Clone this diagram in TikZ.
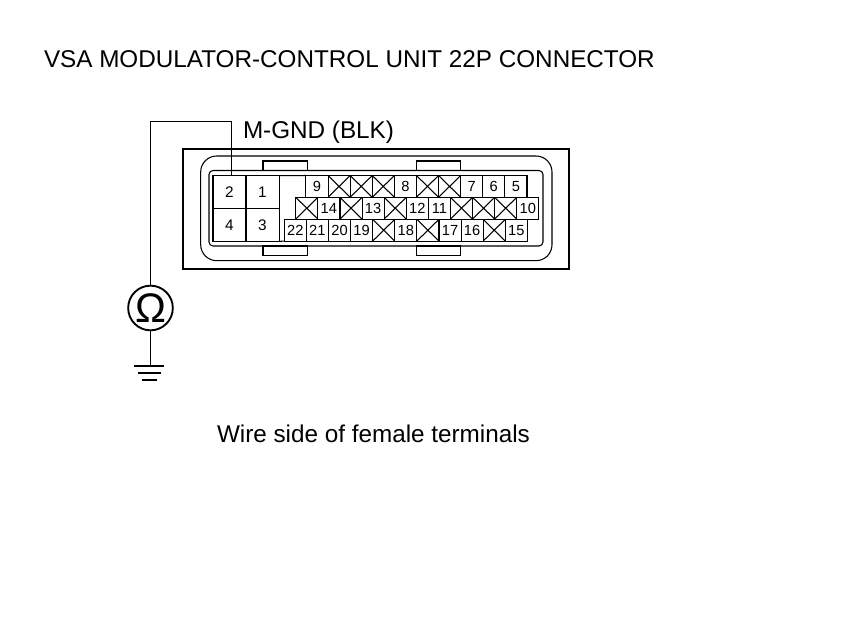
\documentclass[tikz,border=0pt]{standalone}
\usepackage{fontspec}
\setmainfont{Liberation Sans}
\tikzset{
	cell/.style={draw,line width=0.8pt,inner sep=0pt,outer sep=0pt,minimum width=16.6pt,minimum height=16.3pt,font=\fontsize{11pt}{11pt}\selectfont},
	xcell/.style={cell,path picture={\draw[line width=0.8pt] (path picture bounding box.north west)--(path picture bounding box.south east) (path picture bounding box.south west)--(path picture bounding box.north east);}},
	bigcell/.style={cell,minimum width=24.8pt,minimum height=24.6pt,font=\fontsize{11.5pt}{11.5pt}\selectfont},
	label/.style={inner sep=0pt,outer sep=0pt,anchor=base west,font=\fontsize{18.2pt}{18.2pt}\selectfont},
	housing/.style={draw,line width=0.8pt}
}
\begin{document}
\begin{tikzpicture}[x=0.75pt,y=-0.75pt]
	\useasboundingbox (0,0) rectangle (860,630);
	\node[label] (title) at (44,68) {VSA MODULATOR-CONTROL UNIT 22P CONNECTOR};
	\node[label] (mgnd) at (243,139) {M-GND (BLK)};
	\node[label] (wire) at (217,443) {Wire side of female terminals};
	
	% housing
	\draw[line width=1.5pt] (183,149) rectangle (569,269);
	\draw[housing,rounded corners=12pt] (200.7,156) rectangle (552,260.7);
	\draw[housing,rounded corners=3pt] (209,170.5) rectangle (543,246);
	\draw[housing] (263,161) rectangle (307.7,170.5);
	\draw[housing] (416.7,161) rectangle (460.7,170.5);
	\draw[housing] (263,246) rectangle (307.7,255.7);
	\draw[housing] (416.7,246) rectangle (460.7,255.7);
	
	% large terminals
	\node[bigcell] (P2) at (229.5,192) {2};
	\node[bigcell] (P1) at (262.5,192) {1};
	\node[bigcell] (P4) at (229.5,225) {4};
	\node[bigcell] (P3) at (262.5,225) {3};
	
	% upper row
	\node[cell] (P9) at (317,186.4) {9};
	\node[xcell] (X1) at (339.1,186.4) {};
	\node[xcell] (X2) at (361.2,186.4) {};
	\node[xcell] (X3) at (383.3,186.4) {};
	\node[cell] (P8) at (405.4,186.4) {8};
	\node[xcell] (X4) at (427.5,186.4) {};
	\node[xcell] (X5) at (449.6,186.4) {};
	\node[cell] (P7) at (471.7,186.4) {7};
	\node[cell] (P6) at (493.8,186.4) {6};
	\node[cell] (P5) at (515.9,186.4) {5};
	
	% middle row
	\node[xcell] (X6) at (306.8,208.2) {};
	\node[cell] (P14) at (328.9,208.2) {14};
	\node[xcell] (X7) at (351,208.2) {};
	\node[cell] (P13) at (373.1,208.2) {13};
	\node[xcell] (X8) at (395.2,208.2) {};
	\node[cell] (P12) at (417.3,208.2) {12};
	\node[cell] (P11) at (439.4,208.2) {11};
	\node[xcell] (X9) at (461.5,208.2) {};
	\node[xcell] (X10) at (483.6,208.2) {};
	\node[xcell] (X11) at (505.7,208.2) {};
	\node[cell] (P10) at (527.8,208.2) {10};
	
	% lower row
	\node[cell] (P22) at (295.3,230.2) {22};
	\node[cell] (P21) at (317.4,230.2) {21};
	\node[cell] (P20) at (339.5,230.2) {20};
	\node[cell] (P19) at (361.6,230.2) {19};
	\node[xcell] (X12) at (383.7,230.2) {};
	\node[cell] (P18) at (405.8,230.2) {18};
	\node[xcell] (X13) at (427.9,230.2) {};
	\node[cell] (P17) at (450,230.2) {17};
	\node[cell] (P16) at (472.1,230.2) {16};
	\node[xcell] (X14) at (494.2,230.2) {};
	\node[cell] (P15) at (516.3,230.2) {15};
	
	\draw[housing] (P1.north east)--(P9.north west);
	\draw[housing] (P3.south east)--(P22.south west);
	
	% meter and ground
	\node[draw,circle,line width=1.4pt,minimum size=33.5pt,inner sep=0pt,font=\fontsize{31pt}{31pt}\selectfont] (meter) at (150.5,308) {Ω};
	\coordinate (tap) at (231.5,175.7);
	\coordinate (corner) at (231.5,121.5);
	\coordinate (gnd) at (150.5,366);
	\draw[line width=0.8pt] (tap)--(corner)-|(meter.north);
	\draw[line width=0.8pt] (meter.south)--(gnd);
	\draw[line width=1.6pt] (134,366)--(164,366);
	\draw[line width=1.2pt] (138,373)--(161,373);
	\draw[line width=1.2pt] (142,380)--(157,380);
\end{tikzpicture}
\end{document}
